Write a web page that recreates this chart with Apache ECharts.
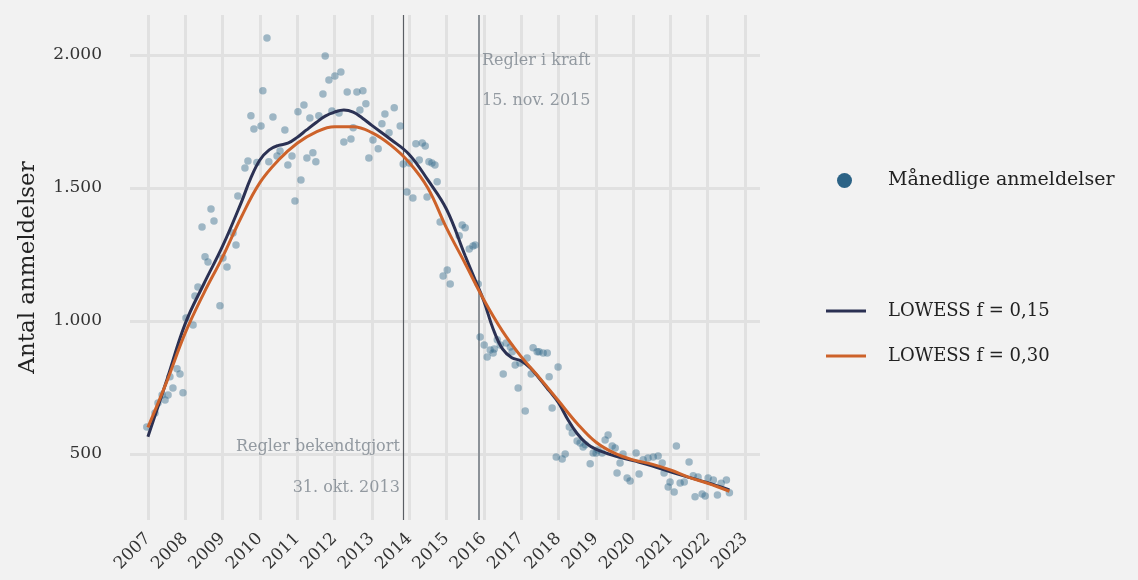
<!DOCTYPE html>
<html>
<head>
<meta charset="utf-8">
<script src="https://cdn.jsdelivr.net/npm/echarts@6/dist/echarts.min.js"></script>
<style>
html,body{margin:0;padding:0;background:#f2f2f2;}
#chart{width:1138px;height:580px;}
</style>
</head>
<body>
<div id="chart"></div>
<script>
// ---- Data ----
const yearTicks = [2007,2008,2009,2010,2011,2012,2013,2014,2015,2016,2017,2018,2019,2020,2021,2022,2023];
const valueTicks = [500,1000,1500,2000];

// Monthly reports: [decimal year, count]
const monthly = [
 [2006.97,602],[2007.19,654],[2007.27,692],[2007.38,722],[2007.46,703],[2007.54,722],[2007.59,790],[2007.67,748],[2007.78,820],[2007.86,801],[2007.94,730],
 [2008.02,1011],[2008.21,985],[2008.26,1094],[2008.34,1128],[2008.45,1353],[2008.53,1241],[2008.61,1222],[2008.69,1421],[2008.77,1376],[2008.93,1057],
 [2009.01,1237],[2009.12,1203],[2009.28,1331],[2009.36,1286],[2009.41,1470],[2009.60,1575],[2009.68,1601],[2009.76,1771],[2009.84,1722],[2009.92,1596],
 [2010.03,1733],[2010.08,1865],[2010.19,2064],[2010.24,1598],[2010.35,1767],[2010.46,1620],[2010.54,1639],[2010.67,1718],[2010.75,1586],[2010.86,1620],[2010.94,1451],
 [2011.02,1786],[2011.10,1530],[2011.18,1812],[2011.26,1613],[2011.34,1763],[2011.42,1632],[2011.50,1598],[2011.58,1771],[2011.69,1853],[2011.75,1996],[2011.85,1906],[2011.93,1789],
 [2012.01,1921],[2012.12,1782],[2012.17,1936],[2012.25,1673],[2012.34,1861],[2012.44,1684],[2012.50,1726],[2012.60,1861],[2012.68,1793],[2012.76,1865],[2012.84,1816],[2012.92,1613],
 [2013.03,1680],[2013.17,1647],[2013.27,1741],[2013.35,1778],[2013.46,1707],[2013.60,1801],[2013.76,1733],[2013.84,1590],[2013.94,1485],
 [2014.00,1594],[2014.10,1462],[2014.18,1666],[2014.27,1605],[2014.35,1669],[2014.43,1658],[2014.48,1466],[2014.53,1598],[2014.61,1594],[2014.69,1586],[2014.75,1523],[2014.83,1372],[2014.91,1169],
 [2015.02,1192],[2015.10,1139],[2015.34,1320],[2015.42,1361],[2015.50,1350],[2015.61,1271],[2015.71,1282],[2015.77,1286],[2015.85,1139],[2015.90,940],
 [2016.01,910],[2016.09,865],[2016.17,891],[2016.25,880],[2016.28,895],[2016.36,929],[2016.44,910],[2016.52,801],[2016.60,917],[2016.71,902],[2016.76,884],[2016.84,835],[2016.92,748],[2016.97,842],
 [2017.11,662],[2017.16,861],[2017.27,801],[2017.32,899],[2017.43,884],[2017.48,884],[2017.59,880],[2017.70,880],[2017.75,790],[2017.83,673],[2017.94,489],[2017.99,827],
 [2018.10,481],[2018.18,500],[2018.29,602],[2018.37,579],[2018.50,549],[2018.58,541],[2018.66,526],[2018.72,535],[2018.85,463],[2018.93,504],
 [2019.01,504],[2019.06,515],[2019.17,504],[2019.25,553],[2019.33,571],[2019.44,530],[2019.52,523],[2019.57,429],[2019.65,466],[2019.73,500],[2019.84,410],[2019.92,399],
 [2020.08,504],[2020.16,425],[2020.27,478],[2020.40,485],[2020.54,489],[2020.67,493],[2020.78,466],[2020.83,429],[2020.94,376],[2020.99,395],
 [2021.10,357],[2021.16,530],[2021.26,391],[2021.37,395],[2021.50,470],[2021.61,418],[2021.66,339],[2021.74,414],[2021.85,350],[2021.93,342],
 [2022.01,410],[2022.15,402],[2022.26,346],[2022.36,390],[2022.50,402],[2022.58,354]
];

// LOWESS f = 0.15
const lowess15Years = [2007.0,2007.5,2008.0,2008.5,2009.0,2009.5,2009.75,2010.0,2010.25,2010.5,2010.75,2011.0,2011.25,2011.5,2011.75,2012.0,2012.25,2012.5,2012.75,2013.0,2013.5,2014.0,2014.5,2015.0,2015.5,2015.75,2016.0,2016.25,2016.5,2016.75,2017.0,2017.25,2017.5,2017.75,2018.0,2018.25,2018.5,2018.75,2019.0,2019.5,2020.0,2020.5,2021.0,2021.5,2022.0,2022.58];
const lowess15Values = [565,775,990,1140,1281,1445,1535,1605,1643,1660,1668,1690,1718,1745,1770,1785,1793,1785,1762,1735,1683,1626,1530,1420,1245,1160,1075,970,895,862,850,823,782,738,693,630,577,540,518,493,475,456,433,412,392,365];

// LOWESS f = 0.30
const lowess30Years = [2007.0,2007.5,2008.0,2008.5,2009.0,2009.5,2010.0,2010.5,2011.0,2011.5,2012.0,2012.5,2013.0,2013.5,2014.0,2014.5,2015.0,2015.5,2016.0,2016.5,2017.0,2017.5,2018.0,2018.5,2019.0,2019.5,2020.0,2020.5,2021.0,2021.5,2022.0,2022.58];
const lowess30Values = [600,770,955,1105,1240,1390,1520,1605,1668,1710,1730,1730,1708,1662,1596,1500,1350,1216,1080,962,866,785,700,615,545,503,478,462,440,412,390,360];

// Events
const eventDates = [2013.83, 2015.87];
const eventTitles = ['Regler bekendtgjort', 'Regler i kraft'];
const eventDateLabels = ['31. okt. 2013', '15. nov. 2015'];
const eventTitleLevels = [526, 1977];
const eventDateLevels = [372, 1827];

const seriesNames = ['Månedlige anmeldelser', 'LOWESS f = 0,15', 'LOWESS f = 0,30'];

// ---- Chart ----
const FONT = 'DejaVu Serif';
const fmtNum = v => String(v).replace(/\B(?=(\d{3})+(?!\d))/g, '.');
const zip = (a, b) => a.map((v, i) => [v, b[i]]);

const annotData = [];
eventDates.forEach((d, i) => {
  const pos = i === 0 ? 'left' : 'right';
  annotData.push({value: [d, eventTitleLevels[i]], name: eventTitles[i], label: {position: pos}});
  annotData.push({value: [d, eventDateLevels[i]], name: eventDateLabels[i], label: {position: pos}});
});

const chart = echarts.init(document.getElementById('chart'));
chart.setOption({
  backgroundColor: '#f2f2f2',
  animation: false,
  textStyle: {fontFamily: FONT},
  grid: {left: 130, right: 378, top: 15, bottom: 60, containLabel: false},
  xAxis: {
    type: 'value', min: 2006.52, max: 2023.4,
    axisLine: {show: false}, axisTick: {show: false}, splitLine: {show: false},
    axisLabel: {customValues: yearTicks, rotate: 45, formatter: v => String(v), fontSize: 17, color: '#333', fontFamily: FONT, margin: 16}
  },
  yAxis: {
    type: 'value', min: 252, max: 2150,
    name: 'Antal anmeldelser', nameLocation: 'middle', nameGap: 90,
    nameTextStyle: {fontSize: 23, color: '#222', fontFamily: FONT},
    axisLine: {show: false}, axisTick: {show: false}, splitLine: {show: false},
    axisLabel: {customValues: valueTicks, formatter: v => fmtNum(v), fontSize: 17, color: '#333', fontFamily: FONT, margin: 28}
  },
  legend: [
    {
      data: [{name: seriesNames[0], itemStyle: {color: '#2c6386', opacity: 1, borderWidth: 0}}],
      left: 832, top: 166, itemWidth: 15, itemHeight: 15, icon: 'circle',
      textStyle: {fontSize: 19, color: '#222', fontFamily: FONT, padding: [0, 0, 0, 31]}
    },
    {
      data: [
        {name: seriesNames[1], icon: 'rect', itemStyle: {color: '#2b3153'}},
        {name: seriesNames[2], icon: 'rect', itemStyle: {color: '#cd622a'}}
      ],
      orient: 'vertical', left: 821, top: 297, itemWidth: 40, itemHeight: 3, itemGap: 27,
      textStyle: {fontSize: 18, color: '#222', fontFamily: FONT, padding: [0, 0, 0, 17]}
    }
  ],
  series: [
    {
      name: 'grid', type: 'line', data: [], silent: true, z: 0,
      markLine: {
        z: 0, silent: true, symbol: 'none', animation: false,
        label: {show: false},
        lineStyle: {color: '#e1e1e1', width: 3, type: 'solid'},
        data: yearTicks.map(y => ({xAxis: y})).concat(valueTicks.map(v => ({yAxis: v})))
      }
    },
    {
      name: 'events', type: 'line', data: [], silent: true, z: 1,
      markLine: {
        z: 1, silent: true, symbol: 'none', animation: false,
        label: {show: false},
        data: [
          {xAxis: eventDates[0], lineStyle: {color: '#5a5e63', width: 1.2, type: 'solid'}},
          {xAxis: eventDates[1], lineStyle: {color: '#8c9298', width: 2, type: 'solid'}}
        ]
      }
    },
    {
      name: 'annot', type: 'scatter', data: annotData, symbolSize: 0, silent: true, z: 1,
      label: {show: true, formatter: p => p.name, fontSize: 16, color: '#7a838c', fontFamily: FONT, distance: 3, textBorderWidth: 0}
    },
    {
      name: seriesNames[0], type: 'scatter', data: monthly, symbolSize: 7.5, z: 2, silent: true,
      itemStyle: {color: '#2c6386', opacity: 0.42, borderWidth: 0}
    },
    {
      name: seriesNames[1], type: 'line', data: zip(lowess15Years, lowess15Values), smooth: 0.4,
      showSymbol: false, symbol: 'none', z: 3, silent: true,
      lineStyle: {color: '#2b3153', width: 3}, itemStyle: {color: '#2b3153'}
    },
    {
      name: seriesNames[2], type: 'line', data: zip(lowess30Years, lowess30Values), smooth: 0.4,
      showSymbol: false, symbol: 'none', z: 4, silent: true,
      lineStyle: {color: '#cd622a', width: 3}, itemStyle: {color: '#cd622a'}
    }
  ]
});
</script>
</body>
</html>
